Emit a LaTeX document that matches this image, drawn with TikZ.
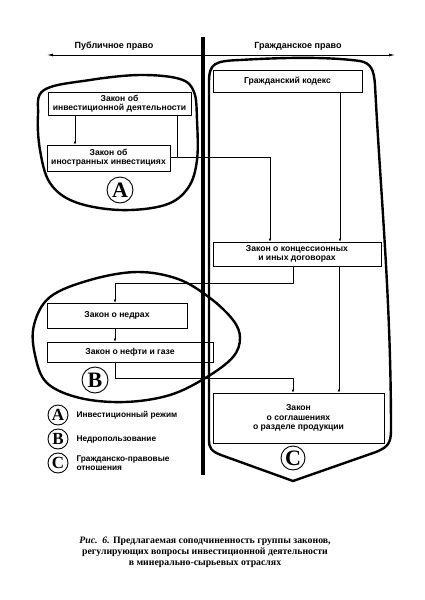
\documentclass[tikz,border=0pt]{standalone}
\usepackage{fontspec}
\setmainfont{Liberation Sans}
\newfontfamily\capfont{Liberation Serif}
\usetikzlibrary{arrows.meta}
\tikzset{
  lawbox/.style={draw, line width=0.6pt, inner sep=0pt, align=center,
    font=\bfseries\fontsize{8.6}{9.4}\selectfont},
  conn/.style={line width=0.5pt},
  arr/.style={conn, -{Latex[length=3pt,width=2.4pt]}},
  region/.style={line width=2.4pt, line join=round},
  bigletter/.style={draw, circle, line width=0.9pt, inner sep=0pt,
    font=\capfont\bfseries\fontsize{22}{22}\selectfont},
  smallletter/.style={draw, circle, line width=0.9pt, inner sep=0pt, minimum size=20pt,
    font=\capfont\bfseries\fontsize{17}{17}\selectfont},
  legtext/.style={anchor=west, align=left, font=\bfseries\fontsize{8.3}{8.5}\selectfont},
  head/.style={font=\bfseries\fontsize{9}{9}\selectfont},
  captext/.style={font=\capfont\bfseries\fontsize{9.8}{11}\selectfont, align=center}
}
\begin{document}
\begin{tikzpicture}[x=1pt,y=-1pt]
\useasboundingbox (0,0) rectangle (425,600);
\fill[white] (0,0) rectangle (425,600);

% axis
\coordinate (axL) at (47,55);
\coordinate (axR) at (395,55);
\draw[line width=0.8pt, {Latex[length=6pt,width=3pt]}-{Latex[length=6pt,width=3pt]}] (axL) -- (axR);
\node[head] (pub) at (114,46) {Публичное право};
\node[head] (civ) at (298,46) {Гражданское право};
\coordinate (vtop) at (203,37);
\coordinate (vbot) at (203,475);
\draw[line width=3.4pt] (vtop) -- (vbot);

% boxes
\node[lawbox, minimum width=143pt, minimum height=23pt] (inv) at (119.5,103.5) {Закон об\\инвестиционной деятельности};
\node[lawbox, minimum width=123pt, minimum height=26pt] (for) at (108.5,158) {Закон об\\иностранных инвестициях};
\node[lawbox, minimum width=149pt, minimum height=22pt] (ck) at (287.5,81) {Гражданский кодекс};
\node[lawbox, minimum width=168pt, minimum height=24pt] (con) at (297,254) {Закон о концессионных\\и иных договорах};
\node[lawbox, minimum width=140pt, minimum height=25pt] (ned) at (117,315.5) {Закон о недрах};
\node[lawbox, minimum width=166pt, minimum height=20pt] (oil) at (130,352) {Закон о нефти и газе};
\node[lawbox, minimum width=171pt, minimum height=50pt] (srp) at (298.5,418) {Закон\\о соглашениях\\о разделе продукции};

% connectors
\draw[arr] (inv.south -| 75,0) -- (for.north -| 75,0);
\coordinate (j1) at (177,157);
\coordinate (j2) at (270,157);
\draw[conn] (inv.south -| j1) -- (j1);
\draw[arr] (for.east |- j1) -- (j2) -- (con.north -| j2);
\draw[arr] (ck.south -| 340,0) -- (con.north -| 340,0);
\coordinate (j3) at (293,283);
\coordinate (j4) at (115,283);
\draw[arr] (con.south -| j3) -- (j3) -- (j4) -- (ned.north -| j4);
\draw[arr] (con.south -| 339,0) -- (srp.north -| 339,0);
\draw[arr] (ned.south -| 115,0) -- (oil.north -| 115,0);
\coordinate (j5) at (115,378);
\coordinate (j6) at (293,378);
\draw[arr] (oil.south -| j5) -- (j5) -- (j6) -- (srp.north -| j6);

% region A
\draw[region] plot[smooth cycle, tension=0.6] coordinates {
 (38,115) (44,90) (90,80) (140,75) (180,79) (194,92) (197,120) (197,160)
 (188,188) (165,205) (120,210) (75,202) (50,183) (40,150)};
% region B
\draw[region] plot[smooth cycle, tension=0.6] coordinates {
 (34,325) (50,297) (90,280) (137,272) (178,279) (210,298) (233,320) (240,338)
 (233,357) (207,377) (170,395) (125,402) (80,398) (47,383) (35,355)};
% region C
\draw[region] (209,440) -- (209,82) .. controls (209,63) and (215,61) .. (240,60)
  .. controls (290,57) and (330,57) .. (360,61) .. controls (371,63) and (374,70) .. (375,85)
  .. controls (381,200) and (391,300) .. (391,430) .. controls (391,443) and (388,447) .. (376,452)
  -- (293,481) -- (221,455) .. controls (211,451) and (209,448) .. (209,440) -- cycle;

% letters
\node[bigletter, minimum size=26pt] (la) at (120,190) {A};
\node[bigletter, minimum size=26pt] (lb) at (95,380) {B};
\node[bigletter, minimum size=24pt] (lc) at (293,458) {C};

% legend
\node[smallletter] (ka) at (58,415) {A};
\node[smallletter] (kb) at (58,439) {B};
\node[smallletter] (kc) at (58,463) {C};
\node[legtext] (ta) at (73,415) {Инвестиционный режим};
\node[legtext] (tb) at (73,439) {Недропользование};
\node[legtext] (tc) at (73,463) {Гражданско-правовые\\отношения};

% caption
\node[captext] (cap) at (205,552) {\textit{Рис.\ \ 6.} Предлагаемая соподчиненность группы законов,\\регулирующих вопросы инвестиционной деятельности\\в минерально-сырьевых отраслях};
\end{tikzpicture}
\end{document}
